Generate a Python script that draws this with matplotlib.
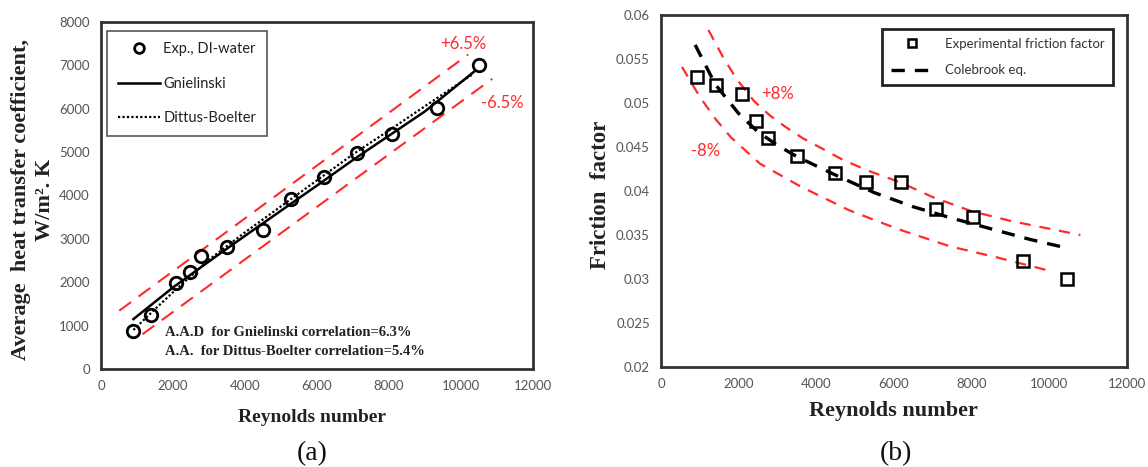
import matplotlib
matplotlib.use("Agg")
import matplotlib.pyplot as plt
from matplotlib.lines import Line2D

W, H = 1148, 467

# ---- (a) heat transfer coefficient ----
re_exp_h = [893, 1380, 2090, 2465, 2770, 3500, 4494, 5285, 6198, 7101, 8095, 9343, 10509]
h_exp = [883, 1244, 1981, 2226, 2610, 2818, 3202, 3908, 4415, 4990, 5413, 6012, 7010]

re_gn = [900, 2000, 3000, 4000, 5000, 6000, 7000, 8000, 9000, 10400]
h_gn = [1150, 1880, 2480, 3070, 3650, 4230, 4820, 5380, 5940, 6880]

re_db = [900, 1500, 2000, 3000, 4000, 5000, 6000, 7000, 8000, 9000, 10300]
h_db = [900, 1380, 1770, 2520, 3150, 3750, 4350, 4950, 5500, 6060, 6780]

re_h_up = [507, 10200]
h_up = [1344, 7250]
re_h_lo = [1150, 10870]
h_lo = [800, 6690]

# ---- (b) friction factor ----
re_exp_f = [924, 1412, 2080, 2447, 2763, 3492, 4476, 5290, 6189, 7070, 8028, 9312, 10452]
f_exp = [0.053, 0.052, 0.051, 0.048, 0.046, 0.044, 0.042, 0.041, 0.041, 0.038, 0.037, 0.032, 0.030]

re_cb = [880, 1400, 2000, 2500, 3000, 3500, 4500, 5500, 6500, 7500, 8500, 9500, 10470]
f_cb = [0.0566, 0.0521, 0.0488, 0.0467, 0.0452, 0.0439, 0.0418, 0.0398, 0.0382, 0.0369, 0.0357, 0.0345, 0.0335]

re_f_up = [1220, 1600, 1950, 2400, 2800, 3200, 3650, 4200, 4700, 5400, 6150, 7000, 8000, 9000, 9900, 10800]
f_up = [0.0583, 0.0552, 0.0527, 0.0502, 0.0486, 0.0473, 0.0460, 0.0447, 0.0435, 0.0422, 0.0410,
        0.0393, 0.0377, 0.0366, 0.0358, 0.0350]
re_f_lo = [540, 1000, 1400, 1800, 2550, 3600, 4850, 6150, 7450, 8700, 10120]
f_lo = [0.0541, 0.0507, 0.0482, 0.0461, 0.0431, 0.0405, 0.0378, 0.0356, 0.0337, 0.0324, 0.0308]

x_ticks = [0, 2000, 4000, 6000, 8000, 10000, 12000]
h_ticks = [0, 1000, 2000, 3000, 4000, 5000, 6000, 7000, 8000]
f_ticks = [0.02, 0.025, 0.03, 0.035, 0.04, 0.045, 0.05, 0.055, 0.06]
f_tick_labels = ["0.02", "0.025", "0.03", "0.035", "0.04", "0.045", "0.05", "0.055", "0.06"]

SANS = "Lato"
SERIF = "Liberation Serif"
TICK_COLOR = "#555555"
RED = "#ff2a2a"
FRAME = "#333333"

fig = plt.figure(figsize=(W / 100, H / 100), dpi=100)


def px_axes(left, top, right, bottom):
    return fig.add_axes([left / W, 1 - bottom / H, (right - left) / W, (bottom - top) / H])


def style(ax):
    for s in ax.spines.values():
        s.set_linewidth(2.0)
        s.set_color(FRAME)
    ax.tick_params(length=0, pad=8, labelsize=9.5, labelcolor=TICK_COLOR)
    for lab in ax.get_xticklabels() + ax.get_yticklabels():
        lab.set_fontfamily(SANS)


# panel (a)
axa = px_axes(101, 22, 533, 369)
axa.plot(re_h_up, h_up, color=RED, lw=1.5, dashes=(7, 4.5))
axa.plot(re_h_lo, h_lo, color=RED, lw=1.5, dashes=(7, 4.5))
axa.plot(re_db, h_db, color="black", lw=1.6, ls=(0, (1, 1)))
axa.plot(re_gn, h_gn, color="black", lw=1.8)
axa.plot(re_exp_h, h_exp, ls="none", marker="o", ms=9, mfc="none", mec="black", mew=2.0)
axa.set_xlim(0, 12000)
axa.set_ylim(0, 8000)
axa.set_xticks(x_ticks)
axa.set_yticks(h_ticks)
style(axa)

handles_a = [
    Line2D([], [], ls="none", marker="o", ms=7, mfc="none", mec="black", mew=2.0),
    Line2D([], [], color="black", lw=1.8),
    Line2D([], [], color="black", lw=1.6, ls=(0, (1, 1))),
]
leg_a = axa.legend(handles_a, ["Exp., DI-water", "Gnielinski", "Dittus-Boelter"],
                   loc="upper left", bbox_to_anchor=(0.014, 0.973), frameon=True, fancybox=False,
                   edgecolor="#555555", framealpha=1, prop={"family": SANS, "size": 10.5},
                   handlelength=2.9, handletextpad=0.2, labelspacing=1.4, borderpad=0.75,
                   borderaxespad=0)
leg_a.get_frame().set_linewidth(1.2)
for t in leg_a.get_texts():
    t.set_color("#222222")

axa.text(10064, 7492, "+6.5%", color=RED, fontsize=12, family=SANS, ha="center", va="center")
axa.text(11147, 6132, "-6.5%", color=RED, fontsize=12, family=SANS, ha="center", va="center")
axa.text(1786, 853, "A.A.D  for Gnielinski correlation=6.3%", fontsize=10.5, family=SERIF,
         fontweight="bold", color="#222222", ha="left", va="center")
axa.text(1786, 392, "A.A.  for Dittus-Boelter correlation=5.4%", fontsize=10.5, family=SERIF,
         fontweight="bold", color="#222222", ha="left", va="center")

# panel (b)
axb = px_axes(661, 15, 1127, 367)
axb.plot(re_f_up, f_up, color=RED, lw=1.6, dashes=(5, 4))
axb.plot(re_f_lo, f_lo, color=RED, lw=1.6, dashes=(5, 4))
axb.plot(re_cb, f_cb, color="black", lw=2.4, dashes=(4, 3))
axb.plot(re_exp_f, f_exp, ls="none", marker="s", ms=8.5, mfc="none", mec="black", mew=1.8)
axb.set_xlim(0, 12000)
axb.set_ylim(0.02, 0.06)
axb.set_xticks(x_ticks)
axb.set_yticks(f_ticks)
axb.set_yticklabels(f_tick_labels)
style(axb)

handles_b = [
    Line2D([], [], ls="none", marker="s", ms=6, mfc="none", mec="black", mew=1.8),
    Line2D([], [], color="black", lw=2.4, dashes=(4, 3)),
]
leg_b = axb.legend(handles_b, ["Experimental friction factor", "Colebrook eq."],
                   loc="upper right", bbox_to_anchor=(0.97, 0.96), frameon=True, fancybox=False,
                   edgecolor="#222222", framealpha=1, prop={"family": SANS, "size": 9.5},
                   handlelength=3.2, handletextpad=0.9, labelspacing=1.1, borderpad=0.65,
                   borderaxespad=0)
leg_b.get_frame().set_linewidth(2.0)
for t in leg_b.get_texts():
    t.set_color("#333333")

axb.text(3012, 0.0510, "+8%", color=RED, fontsize=12, family=SANS, ha="center", va="center")
axb.text(1138, 0.0446, "-8%", color=RED, fontsize=12, family=SANS, ha="center", va="center")

# axis titles and panel tags
fig.text(33 / W, 1 - 200 / H, "Average  heat transfer coefficient,\nW/m². K",
         rotation=90, ha="center", va="center", multialignment="center",
         family=SERIF, fontweight="bold", fontsize=16, linespacing=1.2, color="#222222")
fig.text(312 / W, 1 - 418 / H, "Reynolds number", ha="center", va="center",
         family=SERIF, fontweight="bold", fontsize=14, color="#222222")
fig.text(312 / W, 1 - 454 / H, "(a)", ha="center", va="center",
         family=SERIF, fontsize=20, color="#111111")

fig.text(600 / W, 1 - 195 / H, "Friction  factor", rotation=90, ha="center", va="center",
         family=SERIF, fontweight="bold", fontsize=16.5, color="#222222")
fig.text(893 / W, 1 - 411 / H, "Reynolds number", ha="center", va="center",
         family=SERIF, fontweight="bold", fontsize=16, color="#222222")
fig.text(896 / W, 1 - 454 / H, "(b)", ha="center", va="center",
         family=SERIF, fontsize=20, color="#111111")

fig.savefig("out.png", dpi=100, facecolor="white")
